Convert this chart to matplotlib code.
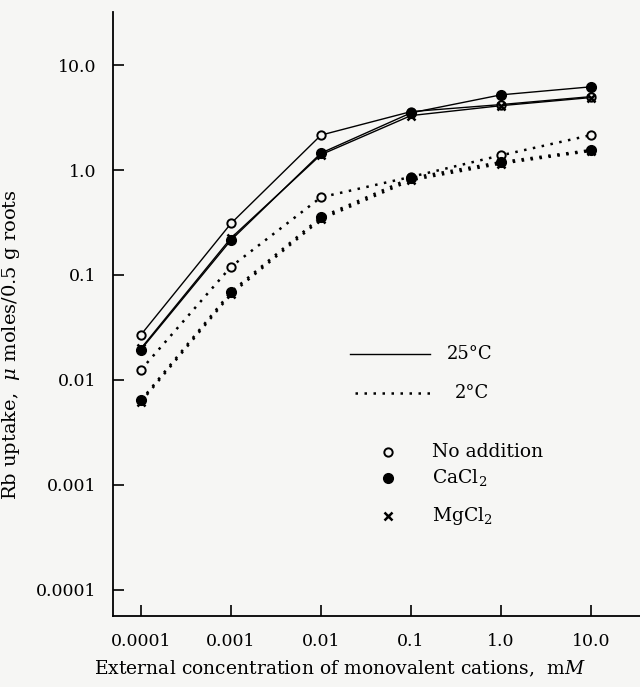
import matplotlib
matplotlib.use('Agg')
import matplotlib.pyplot as plt
import numpy as np

plt.rcParams['font.family'] = ['DejaVu Serif']
plt.rcParams['mathtext.fontset'] = 'dejavuserif'

# external concentration, mM
conc = [0.0001, 0.001, 0.01, 0.1, 1.0, 10.0]
xtick_labels = ['0.0001', '0.001', '0.01', '0.1', '1.0', '10.0']
ytick_vals = [0.0001, 0.001, 0.01, 0.1, 1.0, 10.0]
ytick_labels = ['0.0001', '0.001', '0.01', '0.1', '1.0', '10.0']

# Rb uptake, 25 C
noadd_25 = [0.027, 0.31, 2.15, 3.6, 4.2, 5.0]
cacl2_25 = [0.0195, 0.215, 1.45, 3.5, 5.2, 6.2]
mgcl2_25 = [0.020, 0.225, 1.40, 3.3, 4.1, 4.9]
# Rb uptake, 2 C
noadd_2 = [0.0125, 0.12, 0.55, 0.86, 1.38, 2.15]
cacl2_2 = [0.0064, 0.069, 0.355, 0.84, 1.19, 1.55]
mgcl2_2 = [0.0062, 0.066, 0.34, 0.80, 1.15, 1.52]

bg = '#f6f6f4'
fig = plt.figure(figsize=(6.4, 6.87), dpi=100, facecolor=bg)
ax = fig.add_axes([113/640, 1-616/687, 527/640, 604/687], facecolor=bg)

dot = (0, (1, 2.6))
mk_open = dict(marker='o', ms=6, mfc=bg, mec='k', mew=1.4)
mk_fill = dict(marker='o', ms=7, mfc='k', mec='k')
mk_x = dict(marker='x', ms=6, mec='k', mew=1.8)

ax.plot(conc, noadd_25, color='k', lw=1.0, **mk_open)
ax.plot(conc, cacl2_25, color='k', lw=1.0, **mk_fill)
ax.plot(conc, mgcl2_25, color='k', lw=1.0, **mk_x)
ax.plot(conc, noadd_2, color='k', lw=1.8, ls=dot, **mk_open)
ax.plot(conc, cacl2_2, color='k', lw=1.8, ls=dot, **mk_fill)
ax.plot(conc, mgcl2_2, color='k', lw=1.8, ls=dot, **mk_x)

ax.set_xscale('log')
ax.set_yscale('log')
ax.set_xlim(10**-4.311, 10**1.544)
ax.set_ylim(10**-4.248, 10**1.505)
ax.set_xticks(conc)
ax.set_xticklabels(xtick_labels, fontsize=12.5)
ax.set_yticks(ytick_vals)
ax.set_yticklabels(ytick_labels, fontsize=12.5)
ax.minorticks_off()
ax.tick_params(direction='in', length=8, width=1.2, color='k')
ax.tick_params(axis='x', pad=12)
ax.tick_params(axis='y', pad=12)
for s in ['top', 'right']:
    ax.spines[s].set_visible(False)
for s in ['left', 'bottom']:
    ax.spines[s].set_linewidth(1.3)

ax.set_xlabel('External concentration of monovalent cations,  m$M$', fontsize=13.5)
ax.xaxis.set_label_coords(0.431, -0.071)
ax.set_ylabel('Rb uptake,  $\\mu$ moles/0.5 g roots', fontsize=14)
ax.yaxis.set_label_coords(-0.173, 0.449)

# key
tr = ax.transAxes
ax.plot([0.45, 0.602], [0.434, 0.434], color='k', lw=1.0, transform=tr)
ax.text(0.634, 0.434, '25°C', transform=tr, fontsize=13, va='center')
ax.plot([0.459, 0.602], [0.369, 0.369], color='k', lw=1.8, ls=dot, transform=tr)
ax.text(0.649, 0.369, '2°C', transform=tr, fontsize=13, va='center')
ax.plot([0.522], [0.272], transform=tr, **mk_open)
ax.text(0.605, 0.272, 'No addition', transform=tr, fontsize=13.5, va='center')
ax.plot([0.522], [0.229], transform=tr, **mk_fill)
ax.text(0.605, 0.229, 'CaCl$_2$', transform=tr, fontsize=13.5, va='center')
ax.plot([0.522], [0.166], transform=tr, **mk_x)
ax.text(0.605, 0.166, 'MgCl$_2$', transform=tr, fontsize=13.5, va='center')

plt.savefig('out.png', dpi=100, facecolor=bg)
